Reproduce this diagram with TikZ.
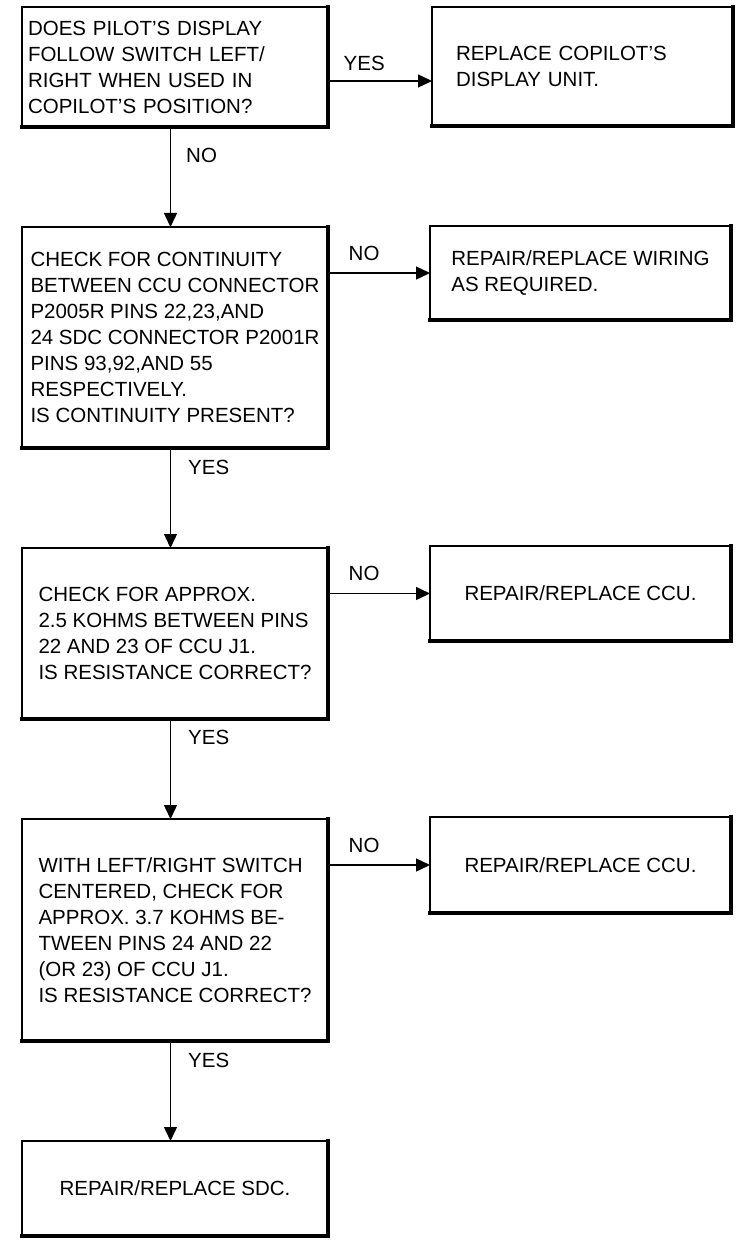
\documentclass[tikz,border=0pt]{standalone}
\usepackage{fontspec}
\setmainfont{Liberation Sans}
\usetikzlibrary{positioning, calc, arrows.meta}

\begin{document}
\begin{tikzpicture}[
  node distance = 50pt and 51pt,
  >={Triangle[length=7pt, width=6.5pt]},
  checkNode/.style ={rectangle, draw=black, line width=0.9pt, outer sep=0pt, minimum width=153pt, inner xsep=3pt, align=left, font=\fontsize{10.25}{13}\selectfont},
  fixNode/.style   ={rectangle, draw=black, line width=0.9pt, outer sep=0pt, minimum width=150.5pt, inner xsep=3pt, align=left, font=\fontsize{10.25}{13}\selectfont},
  arrow/.style     ={->, line width=0.7pt},
  heavyEdge/.style ={line width=1.6pt, line cap=rect},
  ansLabel/.style  ={font=\fontsize{10.25}{13}\selectfont, inner sep=0pt}
]

\useasboundingbox (0,0) rectangle (367.5pt,-620.5pt);

% x of the downward connectors
\coordinate (spineX) at (85.25pt,0);

% ================== ROW 1 ==================
\node[checkNode, anchor=north west, minimum height=60pt, text width=147pt] (ChkDisp) at (11pt,-3.5pt)
  {DOES PILOT'S DISPLAY\\FOLLOW SWITCH LEFT/\\RIGHT WHEN USED IN\\COPILOT'S POSITION?};
\node[fixNode, anchor=west, minimum height=59.5pt, inner xsep=12pt, text width=126.5pt] (FixDisp)
  at ($(ChkDisp.north east)+(52pt,-29.75pt)$) {REPLACE COPILOT'S\\DISPLAY UNIT.};

\draw[arrow] ([yshift=-7pt]ChkDisp.east) -- ([yshift=-7pt]ChkDisp.east -| FixDisp.west)
  node[ansLabel, pos=0, anchor=south west, xshift=7.5pt, yshift=5pt] {YES};

% ================== ROW 2 ==================
\node[checkNode, below=of ChkDisp, minimum height=110.5pt] (ChkCont)
  {CHECK FOR CONTINUITY\\BETWEEN CCU CONNECTOR\\P2005R PINS 22,23,AND\\24 SDC CONNECTOR P2001R\\PINS 93,92,AND 55\\RESPECTIVELY.\\IS CONTINUITY PRESENT?};
\node[fixNode, anchor=west, minimum height=47pt] (FixWire)
  at ($(ChkCont.north east)+(51pt,-23pt)$) {REPAIR/REPLACE WIRING\\AS REQUIRED.};

\draw[arrow] (ChkDisp.south -| spineX) -- (ChkCont.north -| spineX)
  node[ansLabel, pos=0, anchor=north west, xshift=7.5pt, yshift=-10pt] {NO};
\draw[arrow] (ChkCont.east |- FixWire.west) -- (FixWire.west)
  node[ansLabel, pos=0, anchor=south west, xshift=10pt, yshift=6pt] {NO};

% ================== ROW 3 ==================
\node[checkNode, below=of ChkCont, minimum height=85.5pt] (ChkKohm)
  {CHECK FOR APPROX.\\2.5 KOHMS BETWEEN PINS\\22 AND 23 OF CCU J1.\\IS RESISTANCE CORRECT?};
\node[fixNode, anchor=west, minimum height=47.5pt] (FixCcuA)
  at ($(ChkKohm.north east)+(51pt,-22.75pt)$) {REPAIR/REPLACE CCU.};

\draw[arrow] (ChkCont.south -| spineX) -- (ChkKohm.north -| spineX)
  node[ansLabel, pos=0, anchor=north west, xshift=8.5pt, yshift=-5.5pt] {YES};
\draw[arrow] (ChkKohm.east |- FixCcuA.west) -- (FixCcuA.west)
  node[ansLabel, pos=0, anchor=south west, xshift=10pt, yshift=6pt] {NO};

% ================== ROW 4 ==================
\node[checkNode, below=of ChkKohm, minimum height=111pt] (ChkSwitch)
  {WITH LEFT/RIGHT SWITCH\\CENTERED, CHECK FOR\\APPROX. 3.7 KOHMS BE-\\TWEEN PINS 24 AND 22\\(OR 23) OF CCU J1.\\IS RESISTANCE CORRECT?};
\node[fixNode, anchor=west, minimum height=48pt] (FixCcuB)
  at ($(ChkSwitch.north east)+(51pt,-23pt)$) {REPAIR/REPLACE CCU.};

\draw[arrow] (ChkKohm.south -| spineX) -- (ChkSwitch.north -| spineX)
  node[ansLabel, pos=0, anchor=north west, xshift=8.5pt, yshift=-5pt] {YES};
\draw[arrow] (ChkSwitch.east |- FixCcuB.west) -- (FixCcuB.west)
  node[ansLabel, pos=0, anchor=south west, xshift=10pt, yshift=6pt] {NO};

% ================== ROW 5 ==================
\node[checkNode, below=of ChkSwitch, minimum height=47.5pt] (FixSdc) {REPAIR/REPLACE SDC.};

\draw[arrow] (ChkSwitch.south -| spineX) -- (FixSdc.north -| spineX)
  node[ansLabel, pos=0, anchor=north west, xshift=8.5pt, yshift=-5.5pt] {YES};

% heavier right and bottom borders
\foreach \n in {ChkDisp, FixDisp, ChkCont, FixWire, ChkKohm, FixCcuA, ChkSwitch, FixCcuB, FixSdc}
  \draw[heavyEdge] (\n.north east) -- (\n.south east) -- (\n.south west);

\end{tikzpicture}
\end{document}
